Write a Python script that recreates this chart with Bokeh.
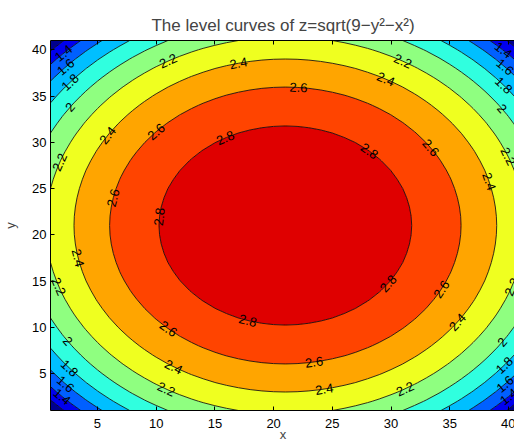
import numpy as np
from bokeh.plotting import figure
from bokeh.models import Range1d, FixedTicker, LinearAxis, ColumnDataSource
from bokeh.core.properties import value
from bokeh.embed import file_html
from bokeh.resources import INLINE

# ---------------- data ----------------
title_text = "The level curves of z=sqrt(9\u2212y\u00b2\u2212x\u00b2)"
grid_vals = np.linspace(-2.0, 2.0, 41)          # x and y grid of the surface
grid_index = np.arange(1, 42)                    # plotted as matrix indices 1..41
levels = [1.0, 1.2, 1.4, 1.6, 1.8, 2.0, 2.2, 2.4, 2.6, 2.8, 3.0]
band_colors = ["#00008f", "#0000ef", "#0060ff", "#00bfff", "#30ffdf",
               "#8fff80", "#efff20", "#ffa500", "#ff4400", "#df0000"]
x_ticks = [5, 10, 15, 20, 25, 30, 35, 40]
y_ticks = [5, 10, 15, 20, 25, 30, 35, 40]

# contour labels: level and polar angle (deg) where the label sits on that curve
label_levels = [1.4, 1.6, 1.8, 2.0, 2.2, 2.2, 2.4, 2.4, 2.6, 2.6, 2.8, 2.8,
                2.2, 2.4, 2.6, 2.8, 2.6, 1.4, 1.6, 1.8, 2.0, 2.2, 2.4,
                2.4, 2.2, 2.0, 1.8, 1.6, 1.4, 2.6, 2.4, 2.2, 2.8,
                2.8, 2.6, 2.4, 2.0, 1.8, 1.6, 1.4, 2.6, 2.4, 2.2, 2.2]
label_angles = [135.4, 137.5, 139.8, 145.1, 160.4, 119.3, 147.2, 102.8, 137.3, 168.5, 118.4, 175.0,
                60.6, 61.6, 85.7, 48.3, 34.2, 45.6, 42.5, 39.2, 34.4, 21.5, 15.3,
                191.2, 198.9, 214.0, 220.0, 222.5, 224.2, 228.3, 238.1, 240.2, 252.7,
                324.4, 332.6, 324.5, 325.7, 321.0, 317.5, 315.8, 279.4, 280.6, 300.0, 341.0]

# surface
GX, GY = np.meshgrid(grid_vals, grid_vals)
Z = np.sqrt(9.0 - GY**2 - GX**2)

# ---------------- figure ----------------
FONT = "Liberation Sans"
X_END = 40.6
FRAME_W, FRAME_H = 465, 370

p = figure(frame_width=FRAME_W, frame_height=FRAME_H,
           x_range=Range1d(1, X_END), y_range=Range1d(1, 41),
           output_backend="svg", toolbar_location=None,
           min_border_left=49, min_border_right=0, min_border_top=40, min_border_bottom=34,
           title=title_text)
p.title.text_font = FONT
p.title.text_font_size = "17px"
p.title.text_font_style = "normal"
p.title.align = "center"
p.title.standoff = 12
p.outline_line_color = None
p.grid.visible = False
p.background_fill_color = "white"

p.contour(x=grid_index, y=grid_index, z=Z, levels=levels,
          fill_color=band_colors, line_color="black", line_width=0.8)

for ax in (p.xaxis[0], p.yaxis[0]):
    ax.major_tick_in = 4
    ax.major_tick_out = 0
    ax.minor_tick_line_color = None
    ax.axis_line_color = "black"
    ax.major_tick_line_color = "black"
    ax.major_label_text_font = FONT
    ax.major_label_text_font_size = "13px"
    ax.major_label_text_color = "black"
    ax.axis_label_text_font = FONT
    ax.axis_label_text_font_size = "13px"
    ax.axis_label_text_font_style = "normal"
p.xaxis[0].ticker = FixedTicker(ticks=x_ticks)
p.yaxis[0].ticker = FixedTicker(ticks=y_ticks)
p.xaxis[0].major_label_standoff = 8
p.yaxis[0].major_label_standoff = 4
p.yaxis[0].axis_label = "y"
p.yaxis[0].axis_label_standoff = 11
p.xaxis[0].axis_label = "x"
p.xaxis[0].axis_label_standoff = -4

top = LinearAxis(ticker=FixedTicker(ticks=x_ticks), major_tick_in=4, major_tick_out=0,
                 minor_tick_line_color=None, major_label_text_font_size="1px",
                 major_label_text_color=None, major_label_standoff=0,
                 axis_line_color="black")
p.add_layout(top, "above")

# contour labels placed on their level curves
sy = FRAME_H / 40.0
sx = FRAME_W / (X_END - 1)
step = grid_vals[1] - grid_vals[0]
lab_x, lab_y, lab_ang, lab_txt = [], [], [], []
for L, a in zip(label_levels, label_angles):
    th = np.radians(a)
    r = np.sqrt(9.0 - L**2)
    xr, yr = r * np.cos(th), r * np.sin(th)
    lab_x.append(1 + (xr - grid_vals[0]) / step)
    lab_y.append(1 + (yr - grid_vals[0]) / step)
    phi = np.arctan2(np.cos(th) * sy, -np.sin(th) * sx)
    if phi > np.pi / 2:
        phi -= np.pi
    elif phi <= -np.pi / 2:
        phi += np.pi
    lab_ang.append(phi)
    lab_txt.append(f"{L:g}")

src = ColumnDataSource(dict(x=lab_x, y=lab_y, angle=lab_ang, text=lab_txt))
p.text(x="x", y="y", text="text", angle="angle", source=src,
       text_font=value(FONT), text_font_size="13px", text_color="black",
       text_align="center", text_baseline="middle")

open("out.html", "w").write(file_html(p, INLINE))
